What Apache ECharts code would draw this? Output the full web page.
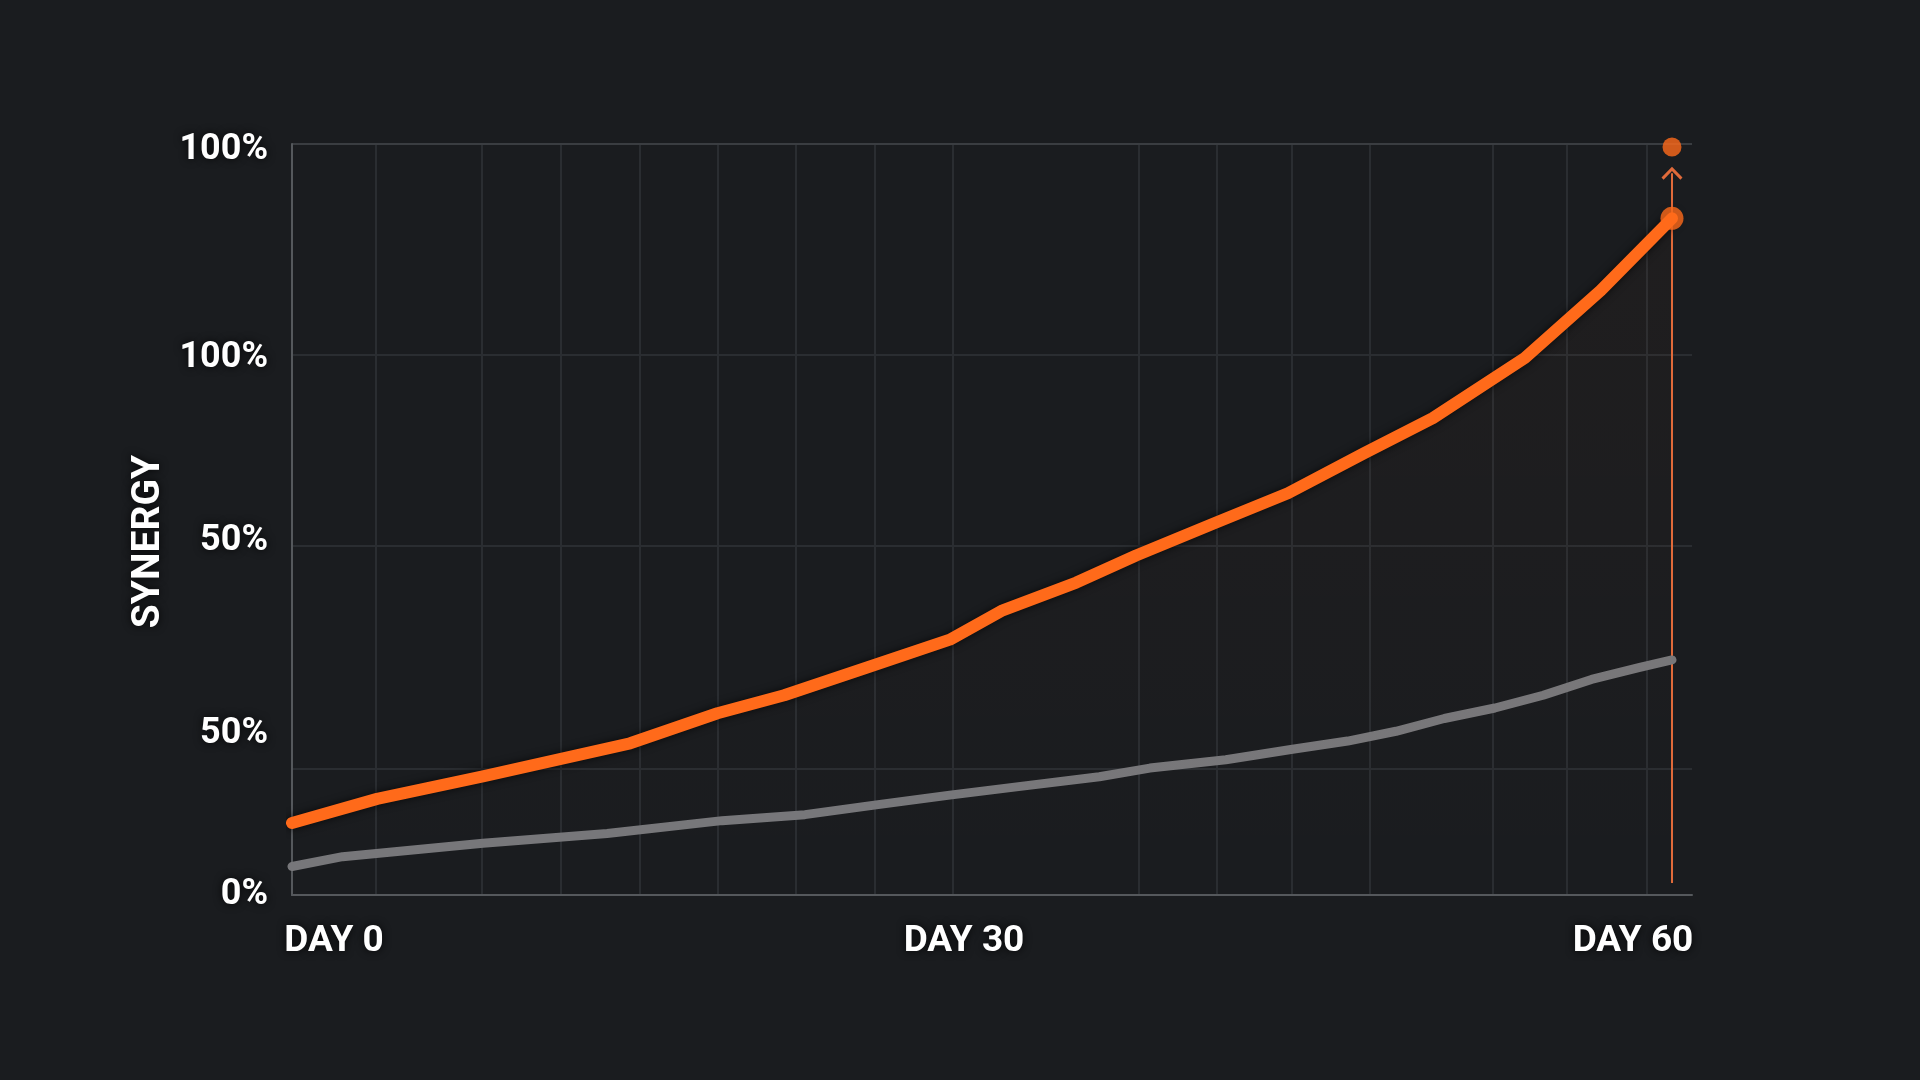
<!DOCTYPE html>
<html>
<head>
<meta charset="utf-8">
<script src="https://cdn.jsdelivr.net/npm/echarts@6/dist/echarts.min.js"></script>
<style>
html,body{margin:0;padding:0;background:#1a1c1f;}
#chart{width:1920px;height:1080px;}
</style>
</head>
<body>
<div id="chart"></div>
<script>
// ---- data ----
const orangeDays   = [0, 3.7, 8.3, 14.7, 18.5, 21.4, 25.0, 28.6, 30.9, 34.1, 36.7, 40.1, 43.3, 46.6, 49.6, 53.6, 56.9, 60];
const orangeValues = [9.6, 12.8, 15.8, 20.2, 24.2, 26.6, 30.3, 34.0, 37.9, 41.6, 45.2, 49.5, 53.5, 58.8, 63.5, 71.5, 80.5, 90.1];
const grayDays   = [0, 2.2, 8.3, 13.7, 18.7, 22.3, 25.4, 28.6, 31.5, 35.1, 37.3, 40.6, 43.5, 45.9, 48.0, 50.1, 52.3, 54.4, 56.5, 58.6, 60];
const grayValues = [3.8, 5.1, 6.9, 8.2, 9.9, 10.7, 12.0, 13.3, 14.4, 15.75, 16.9, 18.0, 19.4, 20.5, 21.8, 23.5, 24.9, 26.6, 28.7, 30.3, 31.3];

const xTickValues = [0, 30, 60];
const xTickLabels = ['DAY 0', 'DAY 30', 'DAY 60'];
const yTickValues = [0, 21.4, 47.1, 71.5, 99.2];
const yTickLabels = ['0%', '50%', '50%', '100%', '100%'];
const yGridValues = [16.8, 46.5, 72];
const yTopValue = 100;
const xGridDays = [3.65, 8.26, 11.7, 15.13, 18.52, 21.91, 25.35, 28.74, 36.83, 40.22, 43.48, 46.87, 52.22, 55.43, 58.91];
const xMax = 60.87;
const targetDay = 60;
const targetValue = 99.6;
const arrowFrom = 1.6;
const arrowTo = 96.1;
const yName = 'SYNERGY';

// ---- build ----
const zip = (a, b) => a.map((v, i) => [v, b[i]]);
const orangeData = zip(orangeDays, orangeValues);
const grayData = zip(grayDays, grayValues);
const lastOrange = orangeData[orangeData.length - 1];

const ORANGE = '#ff6a1a';
const GRAY = '#77777a';
const FONT = 'Roboto';
const shadowText = { textShadowColor: 'rgba(0,0,0,0.85)', textShadowBlur: 8 };
const xFont = { color: '#ffffff', fontFamily: FONT, fontWeight: 'bold', fontSize: 37, ...shadowText };
// per-label horizontal nudges (padding) so the labels sit where the reference has them
const xRich = {
  l0: { ...xFont, padding: [0, 0, 0, 84] },
  l1: { ...xFont, padding: [0, 36, 0, 0] },
  l2: { ...xFont, padding: [0, 78, 0, 0] }
};

const chart = echarts.init(document.getElementById('chart'), null, { renderer: 'canvas' });

chart.setOption({
  backgroundColor: '#1a1c1f',
  animation: false,
  grid: { left: 292, right: 228, top: 144, bottom: 185, containLabel: false },
  xAxis: {
    type: 'value', min: 0, max: xMax,
    splitLine: { show: false },
    axisTick: { show: false },
    axisLine: { show: true, onZero: false, lineStyle: { color: '#55585c', width: 2 } },
    axisLabel: {
      customValues: xTickValues,
      formatter: v => {
        const i = xTickValues.indexOf(v);
        return '{l' + i + '|' + xTickLabels[i] + '}';
      },
      rich: xRich,
      ...xFont, margin: 28
    }
  },
  yAxis: {
    type: 'value', min: 0, max: 100,
    name: yName, nameLocation: 'middle', nameRotate: 90, nameGap: 120,
    nameTextStyle: { color: '#ffffff', fontFamily: FONT, fontWeight: 'bold', fontSize: 39, padding: [0, 44, 0, 0], ...shadowText },
    splitLine: { show: false },
    axisTick: { show: false },
    axisLine: { show: true, onZero: false, lineStyle: { color: '#55585c', width: 2 } },
    axisLabel: {
      customValues: yTickValues,
      formatter: v => yTickLabels[yTickValues.indexOf(v)],
      color: '#ffffff', fontFamily: FONT, fontWeight: 'bold', fontSize: 36, margin: 24,
      ...shadowText
    }
  },
  series: [
    {
      name: 'grid', type: 'line', data: [], silent: true, z: 0,
      markLine: {
        silent: true, symbol: ['none', 'none'], z: 0,
        label: { show: false },
        lineStyle: { color: '#2a2d31', width: 2, type: 'solid' },
        data: [
          ...xGridDays.map(d => ({ xAxis: d })),
          ...yGridValues.map(v => ({ yAxis: v })),
          { yAxis: yTopValue, lineStyle: { color: '#3a3d41', width: 2, type: 'solid' } }
        ]
      }
    },
    {
      name: 'baseline', type: 'line', data: grayData, z: 3,
      showSymbol: false, symbol: 'none',
      lineStyle: { color: GRAY, width: 9, cap: 'round', join: 'round' }
    },
    {
      name: 'synergy', type: 'line', data: orangeData, z: 4,
      showSymbol: false, symbol: 'none',
      lineStyle: { color: ORANGE, width: 12, cap: 'round', join: 'round', shadowColor: 'rgba(0,0,0,0.7)', shadowBlur: 8 },
      areaStyle: {
        color: new echarts.graphic.LinearGradient(0, 0, 0, 1, [
          { offset: 0, color: 'rgba(255,106,26,0.035)' },
          { offset: 1, color: 'rgba(255,106,26,0.0)' }
        ])
      },
      markLine: {
        silent: true, z: 3,
        symbol: ['none', 'path://M0,10 L10,0 L20,10 L18,12 L10,4 L2,12 Z'],
        symbolSize: [21, 13],
        label: { show: false },
        lineStyle: { color: '#e06a3a', width: 2, type: 'solid' },
        data: [[{ coord: [targetDay, arrowFrom] }, { coord: [targetDay, arrowTo] }]]
      }
    },
    {
      name: 'markers', type: 'scatter', z: 6, silent: true,
      data: [
        { value: lastOrange, symbolSize: 23 },
        { value: [targetDay, targetValue], symbolSize: 19 }
      ],
      itemStyle: { color: ORANGE }
    }
  ]
});
</script>
</body>
</html>
